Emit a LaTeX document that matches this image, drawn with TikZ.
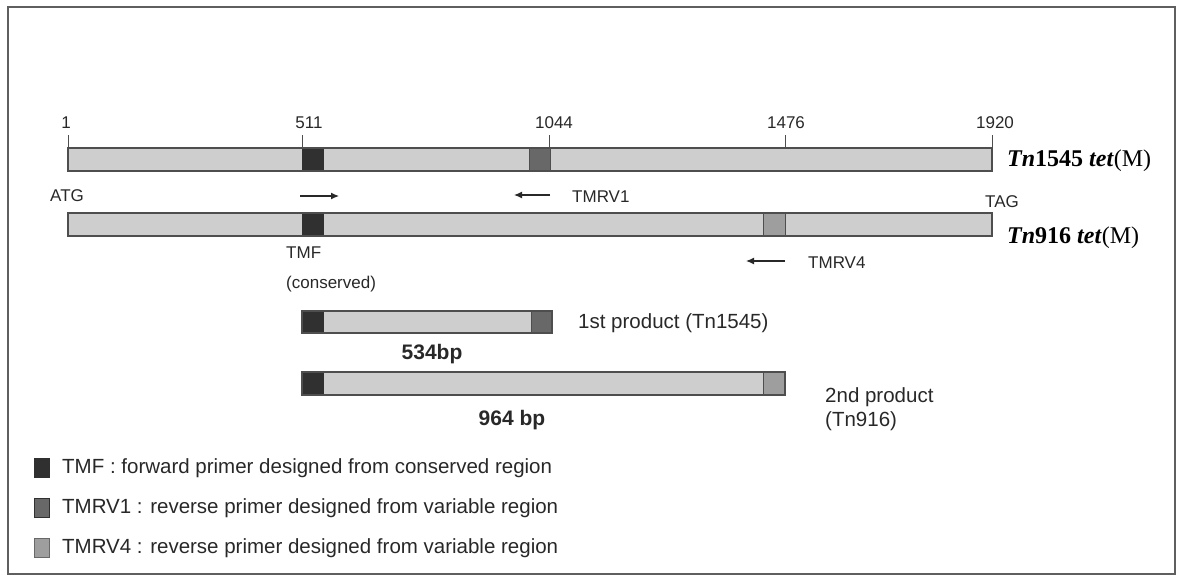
\documentclass[tikz,border=0pt]{standalone}
\usepackage{fontspec}
\setmainfont{Liberation Serif}
\setsansfont{Liberation Sans}
\usepackage{tikz}
\usetikzlibrary{arrows.meta}
\definecolor{geneFill}{RGB}{206,206,206}
\definecolor{geneEdge}{RGB}{78,78,78}
\definecolor{tmfDark}{RGB}{48,48,48}
\definecolor{tmrvOne}{RGB}{104,104,104}
\definecolor{tmrvFour}{RGB}{158,158,158}
\definecolor{frameGray}{RGB}{95,95,95}
\definecolor{txtGray}{RGB}{40,40,40}

\begin{document}
\begin{tikzpicture}[x=1pt,y=-1pt,
    gene/.style={fill=geneFill, draw=geneEdge, line width=1.6pt},
    primerbox/.style={draw=geneEdge, line width=1pt},
    ticker/.style={geneEdge, line width=0.9pt},
    poslbl/.style={font=\sffamily\fontsize{17}{19}\selectfont, text=txtGray, inner sep=0pt},
    smalllbl/.style={font=\sffamily\fontsize{17}{19}\selectfont, text=txtGray, inner sep=0pt, anchor=west},
    biglbl/.style={font=\sffamily\fontsize{20.5}{24}\selectfont, text=txtGray, inner sep=0pt, anchor=west},
    bplbl/.style={font=\sffamily\bfseries\fontsize{21}{24}\selectfont, text=txtGray, inner sep=0pt},
    gname/.style={font=\fontsize{24}{28}\selectfont, text=black, inner sep=0pt, anchor=west},
    primer/.style={txtGray, line width=1.2pt, -{Latex[length=8pt,width=7pt]}}]

    \useasboundingbox (0,0) rectangle (1180,582);

    % frame
    \draw[frameGray, line width=1.8pt] (8,7) rectangle (1175,574);

    % Tn1545 tet(M)
    \draw[gene] (68,148) rectangle (992,171);
    \fill[tmfDark] (302,148) rectangle (324,171);
    \filldraw[fill=tmrvOne, primerbox] (529,148) rectangle (550,171);
    \draw[gene, fill=none] (68,148) rectangle (992,171);

    % positions
    \foreach \xp/\lx/\txt in {68/66/1, 302/309/511, 549/554/1044, 785/786/1476, 992/995/1920}{
        \draw[ticker] (\xp,135) -- (\xp,148);
        \node[poslbl] (pos\txt) at (\lx,123) {\txt};
    }
    \node[gname] (tnA) at (1007,161) {\textbf{\textit{Tn}1545 \textit{tet}}(M)};

    % primers
    \coordinate (tmfS) at (300,196);
    \coordinate (tmfE) at (339,196);
    \coordinate (rvoneS) at (550,195);
    \coordinate (rvoneE) at (514,195);
    \draw[primer] (tmfS) -- (tmfE);
    \draw[primer] (rvoneS) -- (rvoneE);
    \node[smalllbl] (atg) at (50,196) {ATG};
    \node[smalllbl] (rvone) at (572,197) {TMRV1};
    \node[smalllbl] (tag) at (985,202) {TAG};

    % Tn916 tet(M)
    \draw[gene] (68,213) rectangle (992,236);
    \fill[tmfDark] (302,213) rectangle (324,236);
    \filldraw[fill=tmrvFour, primerbox] (763,213) rectangle (785,236);
    \draw[gene, fill=none] (68,213) rectangle (992,236);
    \node[gname] (tnB) at (1007,238) {\textbf{\textit{Tn}916 \textit{tet}}(M)};

    \node[smalllbl] (tmf) at (286,253) {TMF};
    \node[smalllbl] (cons) at (286,284) {(conserved)};
    \coordinate (rvfourS) at (785,261);
    \coordinate (rvfourE) at (746,261);
    \draw[primer] (rvfourS) -- (rvfourE);
    \node[smalllbl] (rvfour) at (808,263) {TMRV4};

    % 1st product
    \draw[gene] (302,311) rectangle (552,333);
    \fill[tmfDark] (302,311) rectangle (324,333);
    \filldraw[fill=tmrvOne, primerbox] (531,311) rectangle (552,333);
    \draw[gene, fill=none] (302,311) rectangle (552,333);
    \node[biglbl] (prodA) at (578,323) {1st product (Tn1545)};
    \node[bplbl] (bpA) at (432,354) {534bp};

    % 2nd product
    \draw[gene] (302,372) rectangle (785,395);
    \fill[tmfDark] (302,372) rectangle (324,395);
    \filldraw[fill=tmrvFour, primerbox] (763,372) rectangle (785,395);
    \draw[gene, fill=none] (302,372) rectangle (785,395);
    \node[biglbl, align=left] (prodB) at (825,409) {2nd product\\(Tn916)};
    \node[bplbl] (bpB) at (512,420) {964 bp};

    % legend
    \filldraw[fill=tmfDark, draw=tmfDark] (34,458) rectangle (49,477);
    \filldraw[fill=tmrvOne, draw=tmfDark] (34,498) rectangle (49,517);
    \filldraw[fill=tmrvFour, draw=tmrvOne] (34,538) rectangle (49,557);
    \node[biglbl] (legA) at (62,468) {TMF : forward primer designed from conserved region};
    \node[biglbl] (legB) at (62,508) {TMRV1 : reverse primer designed from variable region};
    \node[biglbl] (legC) at (62,548) {TMRV4 : reverse primer designed from variable region};

\end{tikzpicture}
\end{document}
